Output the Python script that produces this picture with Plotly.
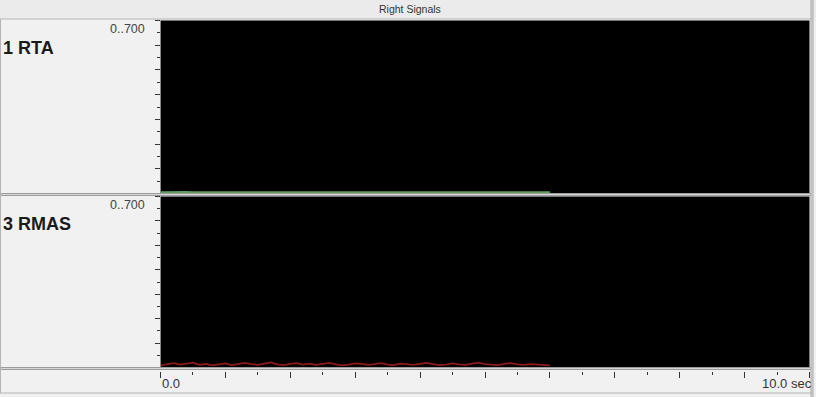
import plotly.graph_objects as go

W, H = 816, 397

# Signal data (0 .. 6.0 sec, sampled every 0.1 sec)
time_s = [round(i * 0.1, 1) for i in range(61)]
rta = [5, 6, 5, 7, 6, 5, 5, 6, 5, 6, 5, 5, 6, 5, 5, 6, 5, 6, 6, 5,
       5, 6, 5, 5, 6, 5, 6, 5, 5, 6, 5, 5, 6, 6, 5, 5, 6, 5, 5, 6,
       5, 6, 5, 5, 6, 5, 5, 6, 5, 5, 6, 5, 6, 5, 5, 6, 5, 5, 6, 5, 5]
rmas = [9, 14, 18, 12, 16, 20, 11, 15, 9, 12, 17, 10, 13, 19, 14, 11, 16, 21, 13, 10,
        15, 18, 12, 16, 11, 14, 19, 13, 9, 12, 17, 15, 11, 14, 18, 12, 10, 16, 13, 11,
        15, 19, 14, 10, 12, 17, 13, 11, 16, 20, 14, 12, 10, 15, 18, 13, 11, 14, 12, 10, 9]

channel_names = ["1 RTA", "3 RMAS"]
range_label = "0..700"
y_range = [0, 700]
x_range = [0, 10]
x_tick_labels = ["0.0", "10.0 sec"]
title = "Right Signals"


def py(px):
    return 1 - px / H


def px_x(px):
    return px / W


fig = go.Figure()
fig.add_trace(go.Scatter(x=time_s, y=rta, mode="lines", xaxis="x", yaxis="y",
                         line=dict(color="#5aa05a", width=2), showlegend=False,
                         hoverinfo="skip"))
fig.add_trace(go.Scatter(x=time_s, y=rmas, mode="lines", xaxis="x2", yaxis="y2",
                         line=dict(color="#8e1a1a", width=1.8), showlegend=False,
                         hoverinfo="skip"))

x_dom = [px_x(160.5), px_x(809.5)]
top_dom = [py(193.5), py(20.5)]
bot_dom = [py(367.5), py(196.5)]

yaxis_common = dict(
    range=y_range, showgrid=False, zeroline=False, showticklabels=False,
    ticks="outside", tick0=0, dtick=100, ticklen=5, tickwidth=1, tickcolor="#333333",
    minor=dict(ticks="outside", dtick=50, ticklen=3, tickwidth=1, tickcolor="#333333"),
    showline=True, linecolor="#8a8a8a", linewidth=1, fixedrange=True,
)

fig.update_layout(
    width=W, height=H,
    margin=dict(l=0, r=0, t=0, b=0),
    paper_bgcolor="#f1f1f1",
    plot_bgcolor="#000000",
    xaxis=dict(domain=x_dom, range=x_range, anchor="y", showgrid=False, zeroline=False,
               showticklabels=False, ticks="", showline=False, fixedrange=True),
    yaxis=dict(domain=top_dom, anchor="x", **yaxis_common),
    xaxis2=dict(domain=x_dom, range=x_range, anchor="free", position=py(370.5),
                showgrid=False, zeroline=False, showticklabels=False,
                ticks="outside", tick0=0, dtick=1, ticklen=6, tickwidth=1,
                tickcolor="#333333",
                minor=dict(ticks="outside", dtick=0.5, ticklen=3, tickwidth=1,
                           tickcolor="#333333"),
                showline=False, fixedrange=True),
    yaxis2=dict(domain=bot_dom, anchor="x2", **yaxis_common),
)

# Window frame: title bar and separators
shapes = [
    dict(type="rect", xref="paper", yref="paper", x0=0, x1=1, y0=py(19), y1=1,
         fillcolor="#ebebeb", line=dict(width=0), layer="below"),
]
for ypx in [194.5, 368.5]:
    shapes.append(dict(type="line", xref="paper", yref="paper", x0=0, x1=px_x(812),
                       y0=py(ypx), y1=py(ypx), line=dict(color="#9c9c9c", width=3),
                       layer="above"))
    shapes.append(dict(type="line", xref="paper", yref="paper", x0=0, x1=px_x(812),
                       y0=py(ypx), y1=py(ypx), line=dict(color="#d6d6d6", width=1),
                       layer="above"))
for ypx, col in [(19, "#b4b4b4"), (393, "#b4b4b4")]:
    shapes.append(dict(type="line", xref="paper", yref="paper", x0=0, x1=px_x(812),
                       y0=py(ypx), y1=py(ypx), line=dict(color=col, width=1),
                       layer="above"))
shapes.append(dict(type="line", xref="paper", yref="paper", x0=px_x(0.5), x1=px_x(0.5),
                   y0=py(393), y1=py(19), line=dict(color="#b4b4b4", width=1),
                   layer="above"))
shapes.append(dict(type="line", xref="paper", yref="paper", x0=px_x(812), x1=px_x(812),
                   y0=0, y1=1, line=dict(color="#a8a8a8", width=3), layer="above"))
shapes.append(dict(type="line", xref="paper", yref="paper", x0=px_x(812), x1=px_x(812),
                   y0=0, y1=1, line=dict(color="#dadada", width=1), layer="above"))

label_font = dict(family="Liberation Sans, Arial, sans-serif", size=18, color="#1a1a1a")
small_font = dict(family="Liberation Sans, Arial, sans-serif", size=12.5, color="#444444")
axis_font = dict(family="Liberation Sans, Arial, sans-serif", size=13, color="#333333")

annotations = [
    dict(text=title, x=px_x(410), y=py(9.5), xref="paper", yref="paper",
         xanchor="center", yanchor="middle", showarrow=False,
         font=dict(family="Liberation Sans, Arial, sans-serif", size=10.5, color="#333333")),
]
for name, ypx, rpx in [(channel_names[0], 48, 29), (channel_names[1], 224, 205)]:
    annotations.append(dict(text=f"<b>{name}</b>", x=px_x(1), y=py(ypx), xref="paper",
                            yref="paper", xanchor="left", yanchor="middle",
                            showarrow=False, font=label_font))
    annotations.append(dict(text=range_label, x=px_x(147), y=py(rpx), xref="paper",
                            yref="paper", xanchor="right", yanchor="middle",
                            showarrow=False, font=small_font))
annotations.append(dict(text=x_tick_labels[0], x=x_range[0], y=py(383), xref="x2",
                        yref="paper", xanchor="left", yanchor="middle",
                        xshift=-1, showarrow=False, font=axis_font))
annotations.append(dict(text=x_tick_labels[1], x=px_x(814), y=py(383), xref="paper",
                        yref="paper", xanchor="right", yanchor="middle",
                        showarrow=False, font=axis_font))

fig.update_layout(shapes=shapes, annotations=annotations)

fig.write_html("out.html")
